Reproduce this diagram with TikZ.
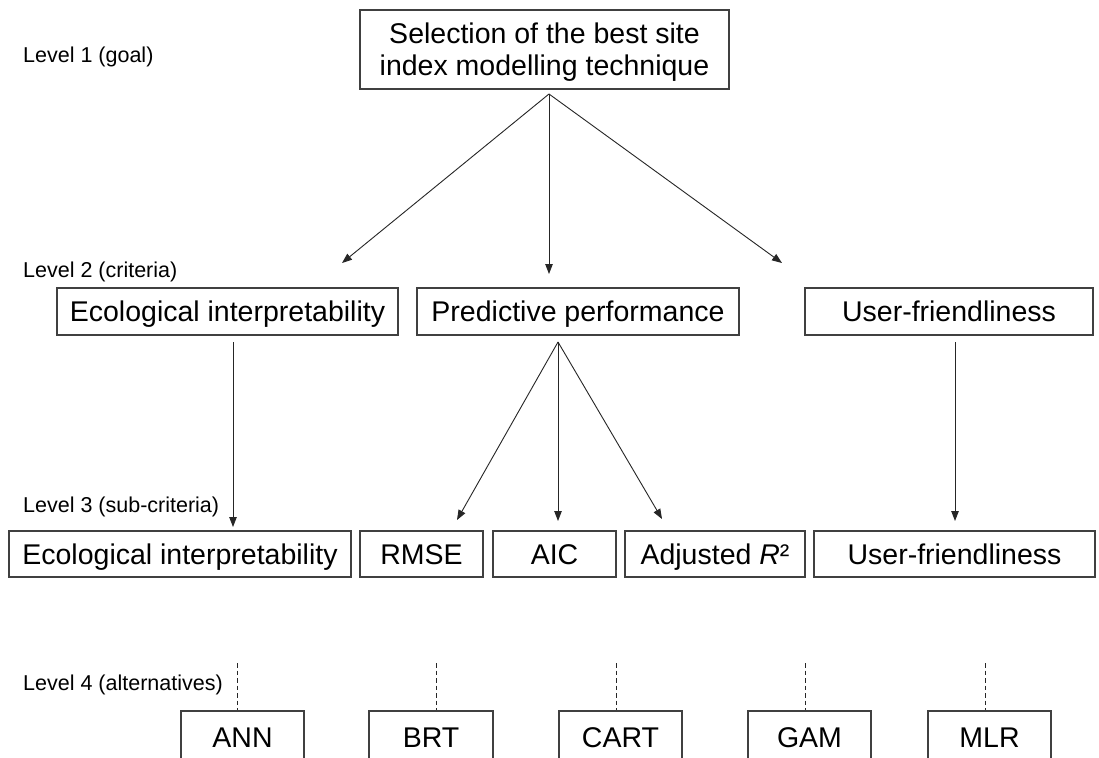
\documentclass[tikz,border=0pt]{standalone}
\usepackage{fontspec}
\setmainfont{Liberation Sans}
\usetikzlibrary{arrows.meta}
\definecolor{boxgray}{HTML}{404040}
\definecolor{linegray}{HTML}{262626}
\begin{document}
\begin{tikzpicture}[x=1pt,y=-1pt,
  box/.style={draw=boxgray, line width=1.2pt, font=\fontsize{28.5}{32}\selectfont,
    inner sep=0pt, minimum height=47pt, anchor=center, text=black},
  sbox/.style={box, text height=20.5pt, text depth=0pt},
  lvl/.style={font=\fontsize{21.5}{24}\selectfont, anchor=base west, inner sep=0pt},
  arr/.style={draw=linegray, line width=0.9pt, -{Triangle[length=10pt,width=7.5pt]}},
  alt/.style={draw=linegray, line width=0.9pt, dash pattern=on 4.5pt off 3pt}]
\clip (0,0) rectangle (1099,757);
\fill[white] (0,0) rectangle (1099,757);

% level labels
\node[lvl] (l1) at (23,63) {Level 1 (goal)};
\node[lvl] (l2) at (23,277) {Level 2 (criteria)};
\node[lvl] (l3) at (23,512) {Level 3 (sub-criteria)};
\node[lvl] (l4) at (23,690) {Level 4 (alternatives)};

% level 1
\node[box, minimum width=369pt, minimum height=79pt] (goal) at (544.5,49.5)
  {\raisebox{-4pt}[\height][\depth]{\begin{tabular}{@{}c@{}}Selection of the best site\\index modelling technique\end{tabular}}};

% level 2
\node[sbox, minimum width=341pt] (c1) at (227.5,311.5) {Ecological interpretability};
\node[sbox, minimum width=322pt] (c2) at (578,311.5) {Predictive performance};
\node[sbox, minimum width=288pt] (c3) at (949,311.5) {User-friendliness};

% level 3
\node[sbox, minimum width=342pt, minimum height=46pt] (s1) at (180,554) {Ecological interpretability};
\node[sbox, minimum width=123pt, minimum height=46pt] (s2) at (421.5,554) {RMSE};
\node[sbox, minimum width=123pt, minimum height=46pt] (s3) at (554.5,554) {AIC};
\node[sbox, minimum width=180pt, minimum height=46pt] (s4) at (715,554) {Adjusted \textit{R}²};
\node[sbox, minimum width=281pt, minimum height=46pt] (s5) at (954.5,554) {User-friendliness};

% level 4
\node[sbox, minimum width=123pt, minimum height=52pt] (a1) at (242.5,737) {ANN};
\node[sbox, minimum width=124pt, minimum height=52pt] (a2) at (431,737) {BRT};
\node[sbox, minimum width=123pt, minimum height=52pt] (a3) at (620.5,737) {CART};
\node[sbox, minimum width=123pt, minimum height=52pt] (a4) at (809.5,737) {GAM};
\node[sbox, minimum width=123pt, minimum height=52pt] (a5) at (989.5,737) {MLR};

% connector coordinates
\coordinate (g0) at (549,94);
\coordinate (t1) at (342,263);
\coordinate (t2) at (549,274);
\coordinate (t3) at (782,263);
\coordinate (c1o) at (233,342);
\coordinate (c1t) at (233,527);
\coordinate (c2o) at (558,342);
\coordinate (u1) at (457,520);
\coordinate (u2) at (558,521);
\coordinate (u3) at (662,519);
\coordinate (c3o) at (955,342);
\coordinate (c3t) at (955,521);
\coordinate (d1) at (237,663);
\coordinate (d2) at (436,663);
\coordinate (d3) at (616,663);
\coordinate (d4) at (805,663);
\coordinate (d5) at (985,663);

\draw[arr] (g0) -- (t1);
\draw[arr] (g0) -- (t2);
\draw[arr] (g0) -- (t3);
\draw[arr] (c1o) -- (c1t);
\draw[arr] (c2o) -- (u1);
\draw[arr] (c2o) -- (u2);
\draw[arr] (c2o) -- (u3);
\draw[arr] (c3o) -- (c3t);

\draw[alt] (d1) -- (d1 |- a1.north);
\draw[alt] (d2) -- (d2 |- a2.north);
\draw[alt] (d3) -- (d3 |- a3.north);
\draw[alt] (d4) -- (d4 |- a4.north);
\draw[alt] (d5) -- (d5 |- a5.north);
\end{tikzpicture}
\end{document}
